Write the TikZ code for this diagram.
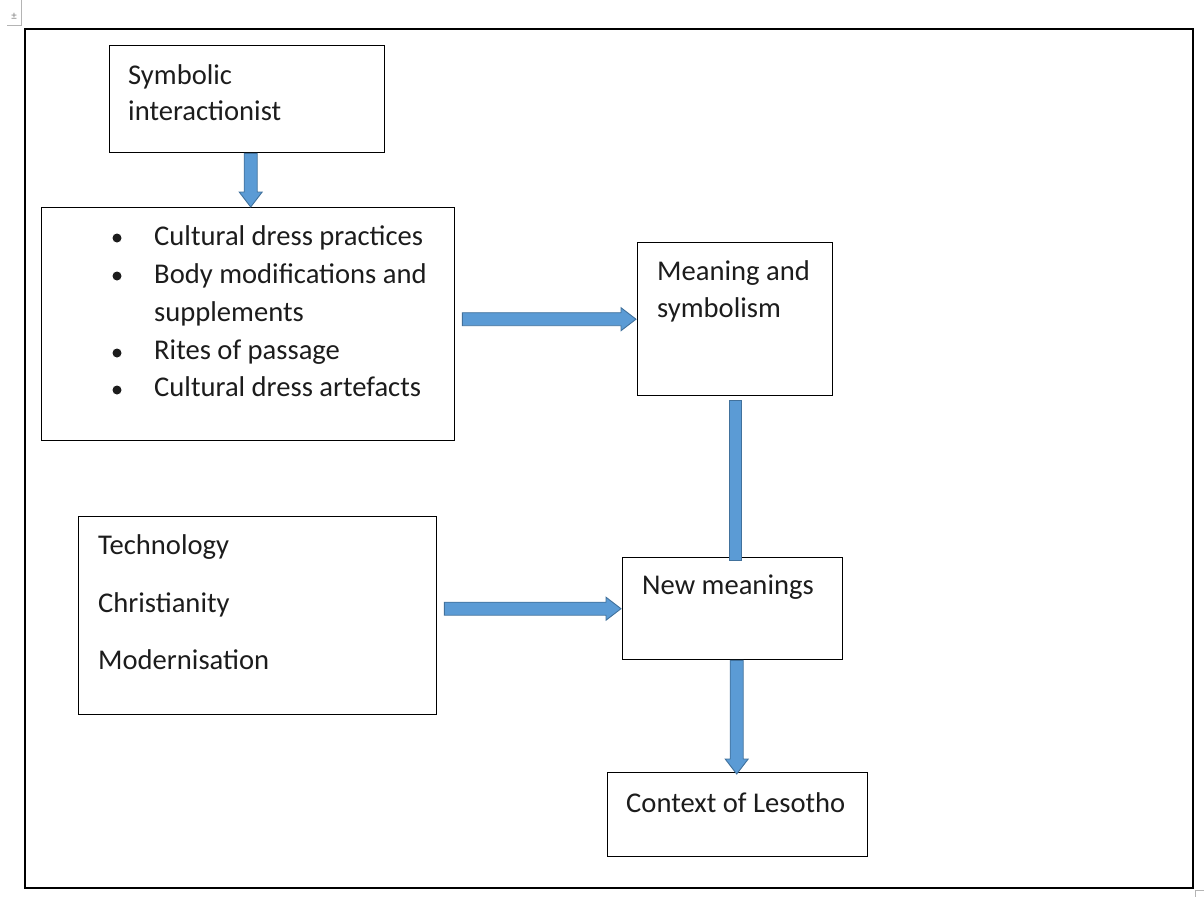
\documentclass[tikz,border=0pt]{standalone}
\usepackage{fontspec}
\setmainfont{Carlito}
\usetikzlibrary{calc}
\definecolor{arrowfill}{HTML}{5B9BD5}
\definecolor{arrowedge}{HTML}{41719C}
\definecolor{inkgray}{HTML}{1C1C1C}
\definecolor{uigray}{HTML}{B4B4B4}

\tikzset{
  box/.style={draw=black, line width=1.4pt, rectangle, inner sep=0pt, anchor=north west},
  txt/.style={anchor=base west, inner sep=0pt, font=\fontsize{28.6}{34}\selectfont, text=inkgray},
  bulletdot/.style={fill=inkgray, draw=none},
  % wide block arrow drawn as a filled outline from start to target
  blockarrow/.style={fill=arrowfill, draw=arrowedge, line width=0.9pt, line join=miter,
    to path={let \p1=($(\tikztotarget)!15pt!(\tikztostart)$) in
      ($(\tikztostart)!6.5pt!90:(\tikztotarget)$)
      -- ($(\p1)!6.5pt!-90:(\tikztostart)$)
      -- ($(\p1)!11.5pt!-90:(\tikztostart)$)
      -- (\tikztotarget)
      -- ($(\p1)!11.5pt!90:(\tikztostart)$)
      -- ($(\p1)!6.5pt!90:(\tikztostart)$)
      -- ($(\tikztostart)!6.5pt!-90:(\tikztotarget)$)
      -- cycle}},
  blockbar/.style={fill=arrowfill, draw=arrowedge, line width=0.9pt}
}

\begin{document}
\begin{tikzpicture}[x=1pt,y=-1pt]
\useasboundingbox (0,0) rectangle (1204,897);

% editor handles
\draw[uigray, line width=0.8pt] (21,0) -- (21,25) -- (7,25);
\node[anchor=center, inner sep=0pt, text=uigray!70!black, font=\fontsize{11}{11}\selectfont] (handle) at (14,16) {±};
\draw[uigray, line width=0.8pt] (1204,890) -- (1195,890) -- (1195,897);

% outer frame
\node[box, line width=1.8pt, minimum width=1168pt, minimum height=859pt] (frame) at (24,28) {};

% boxes
\node[box, minimum width=275pt, minimum height=107pt] (b1) at (109,45) {};
\node[box, minimum width=413pt, minimum height=233pt] (b2) at (41,207) {};
\node[box, minimum width=195pt, minimum height=153pt] (b3) at (637,242) {};
\node[box, minimum width=358pt, minimum height=198pt] (b4) at (78,516) {};
\node[box, minimum width=220pt, minimum height=102pt] (b5) at (622,557) {};
\node[box, minimum width=260pt, minimum height=84pt] (b6) at (607,772) {};

% texts
\node[txt] (t1a) at (128,84) {Symbolic};
\node[txt] (t1b) at (128,120) {interactionist};

\node[txt] (t2a) at (154,245) {Cultural dress practices};
\node[txt] (t2b) at (154,283) {Body modifications and};
\node[txt] (t2c) at (154,321) {supplements};
\node[txt] (t2d) at (154,359) {Rites of passage};
\node[txt] (t2e) at (154,396) {Cultural dress artefacts};
\fill[bulletdot] (117,238) circle (4.5);
\fill[bulletdot] (117,276) circle (4.5);
\fill[bulletdot] (117,353) circle (4.5);
\fill[bulletdot] (117,390) circle (4.5);

\node[txt] (t3a) at (657,280) {Meaning and};
\node[txt] (t3b) at (657,317) {symbolism};

\node[txt] (t4a) at (98,554) {Technology};
\node[txt] (t4b) at (98,612) {Christianity};
\node[txt] (t4c) at (98,669) {Modernisation};

\node[txt] (t5) at (642,594) {New meanings};
\node[txt] (t6) at (626,812) {Context of Lesotho};

% connectors
\draw[blockarrow] ([xshift=3.5pt]b1.south) to ([xshift=3.5pt]b1.south |- b2.north);
\draw[blockarrow] ([xshift=7pt]b2.east |- b3.west) to ([xshift=-1pt]b3.west);
\draw[blockbar] ([xshift=-6pt,yshift=-4pt]b3.south) rectangle ([xshift=6pt,yshift=-3pt]b3.south |- b5.north);
\draw[blockarrow] ([xshift=7pt]b4.east |- b5.west) to ([xshift=-1pt]b5.west);
\draw[blockarrow] ([xshift=-1pt]b6.north |- b5.south) to ([xshift=-1pt,yshift=-2pt]b6.north);
\end{tikzpicture}
\end{document}
